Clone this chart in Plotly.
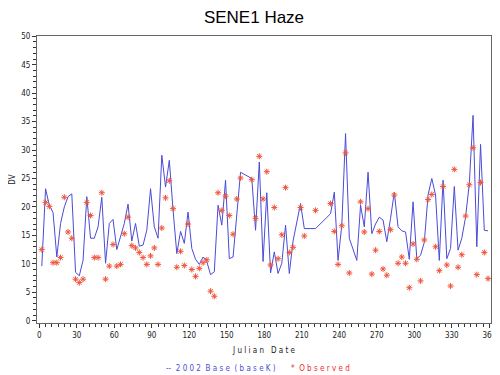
import plotly.graph_objects as go

# Observed (every third day, with gaps)
obs_days = [2,5,8,11,14,17,20,23,26,29,32,35,38,41,44,47,50,53,56,59,62,65,68,71,74,77,80,83,86,89,
            92,95,98,101,104,107,110,113,116,119,122,125,128,131,134,137,140,143,146,149,152,155,158,161,
            170,173,176,179,182,185,188,191,194,197,200,203,209,212,221,233,236,239,242,245,248,
            257,260,263,266,269,272,275,278,281,284,287,290,293,296,299,302,305,308,311,314,317,320,
            323,326,329,332,335,338,341,344,347,350,353,356,359]
obs_vals = [12.5,20.8,20.1,10.2,10.2,11.1,21.7,15.6,14.5,7.3,6.7,7.3,20.8,18.5,11.1,11.1,22.5,7.3,9.6,13.4,
            9.6,9.9,15.3,18.2,13.2,12.8,12.0,11.1,9.9,11.4,
            12.8,9.9,16.3,21.6,24.6,19.7,9.4,12.2,9.7,17.0,9.0,7.8,9.2,10.2,10.7,5.2,4.3,22.5,19.4,21.9,
            18.5,15.2,21.4,25.1,
            24.8,18.0,28.9,21.4,26.2,9.8,19.9,10.9,15.1,23.4,12.0,12.9,19.9,14.9,19.4,20.6,15.7,9.9,16.7,29.5,8.4,
            20.9,15.6,19.7,8.2,12.4,15.7,9.1,8.0,16.0,22.1,10.1,11.2,10.1,5.8,13.5,10.8,7.0,14.2,21.3,22.2,13.0,8.8,
            23.6,9.8,6.1,26.6,9.4,11.6,18.4,23.9,30.4,8.1,24.3,12.0,7.4]

# 2002 Base (baseK) model
mod_days = [2,5,8,11,14,17,20,23,26,29,32,35,38,41,44,47,50,53,56,59,62,65,68,71,74,77,80,83,86,89,
            92,95,98,101,104,107,110,113,116,119,122,125,128,131,134,137,140,143,146,149,152,155,158,161,
            170,173,176,179,182,185,188,191,194,197,200,203,209,212,221,233,236,239,242,245,248,254,
            257,260,263,266,269,272,275,278,281,284,287,290,293,296,299,302,305,308,311,314,317,320,
            323,326,329,332,335,338,341,344,347,350,353,356,359]
mod_vals = [9.6,23.2,20.3,19.0,11.2,17.1,20.0,21.8,22.3,8.5,7.9,10.6,21.8,14.5,14.5,16.5,21.7,10.1,17.1,17.8,
            12.5,14.8,17.1,20.5,14.0,17.1,13.1,13.3,15.9,23.2,
            16.5,14.5,29.1,23.5,28.2,19.5,11.8,15.7,13.6,19.1,12.7,10.8,9.9,11.2,10.4,8.1,8.6,20.3,16.8,24.7,
            10.9,11.2,18.2,26.1,
            25.0,15.9,27.9,10.4,22.5,8.4,12.1,8.3,10.1,16.8,8.3,14.0,20.6,16.2,16.2,18.8,22.6,10.6,16.8,32.9,14.5,10.6,
            20.3,16.5,26.1,15.3,17.0,18.2,17.7,13.9,18.0,22.6,16.5,15.8,15.6,10.8,20.9,10.9,11.5,13.8,22.1,25.0,22.1,10.6,
            24.7,10.9,12.7,23.6,12.4,14.5,18.2,24.1,36.1,13.0,31.0,15.9,15.8]

x_ticks = list(range(0, 361, 30))
y_ticks = list(range(0, 51, 5))

BLUE = "rgb(75,75,215)"
RED = "rgb(235,45,45)"
FAM = "Liberation Sans Narrow, DejaVu Sans Condensed, Liberation Sans, Arial"
TICKFONT = dict(family=FAM, size=8, color="#222")

fig = go.Figure()
fig.add_trace(go.Scatter(x=mod_days, y=mod_vals, mode="lines",
                         line=dict(color=BLUE, width=1), name="2002 Base (baseK)"))
fig.add_trace(go.Scatter(x=obs_days, y=obs_vals, mode="markers",
                         marker=dict(symbol="asterisk-open", size=5, line=dict(color=RED, width=1)),
                         name="Observed"))

# page has an 8px body margin, so the figure is sized to fit the 500x375 window
fig.update_layout(
    width=492, height=367,
    margin=dict(l=29, r=9, t=28, b=52, autoexpand=False),
    paper_bgcolor="white", plot_bgcolor="white",
    showlegend=False,
    title=dict(text="SENE1 Haze", x=0.5, xanchor="center", y=0.992, yanchor="top",
               font=dict(family="Liberation Sans, Arial", size=17, color="black")),
    xaxis=dict(range=[-1.84, 361.36], tickvals=x_ticks, ticks="outside", ticklen=4,
               tickcolor="#333", showgrid=False, zeroline=False, automargin=False,
               showline=True, linecolor="#666", linewidth=1, mirror=True,
               tickfont=TICKFONT,
               minor=dict(dtick=5, ticklen=3, tickcolor="#333", ticks="outside", showgrid=False),
               title=dict(text="J u l i a n   D a t e", standoff=8,
                          font=dict(family=FAM, size=8, color="#222"))),
    yaxis=dict(range=[-0.4, 50.05], tickvals=y_ticks, ticks="outside", ticklen=4,
               tickcolor="#333", showgrid=False, zeroline=False, automargin=False,
               showline=True, linecolor="#666", linewidth=1, mirror=True,
               tickfont=TICKFONT,
               minor=dict(dtick=1, ticklen=3, tickcolor="#333", ticks="outside", showgrid=False),
               title=dict(text="DV", standoff=9,
                          font=dict(family=FAM, size=8, color="#222"))),
)

fig.add_annotation(text="--  2 0 0 2  B a s e  ( b a s e K )", xref="paper", yref="paper",
                   x=0.53, y=-0.157, xanchor="right", yanchor="middle", showarrow=False,
                   font=dict(family=FAM, size=8, color=BLUE))
fig.add_annotation(text="*  O b s e r v e d", xref="paper", yref="paper",
                   x=0.555, y=-0.157, xanchor="left", yanchor="middle", showarrow=False,
                   font=dict(family=FAM, size=8, color=RED))

fig.write_html("out.html")
